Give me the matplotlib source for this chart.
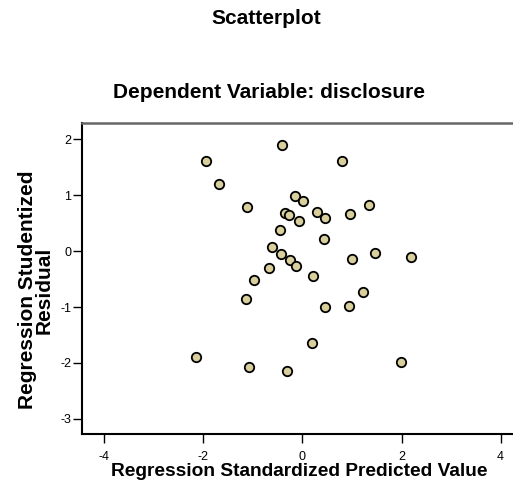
import matplotlib
matplotlib.use("Agg")
import matplotlib.pyplot as plt

plt.rcParams["font.family"] = ["Liberation Sans", "DejaVu Sans"]
plt.rcParams["axes.unicode_minus"] = False

# standardized predicted value (x) vs studentized residual (y)
pred = [-1.95, -1.68, -1.13, -0.41, -0.46, -0.62, -0.43, -0.68, -0.97, -1.15,
        0.80, -0.16, 0.01, 1.34, -0.36, -0.28, 0.29, 0.45, 0.96, -0.08,
        0.44, -0.25, -0.13, 1.00, 1.46, 2.19, 0.21, 1.22, 0.46, 0.94,
        0.19, -0.32, 1.98, -2.14, -1.07]
resid = [1.61, 1.20, 0.79, 1.89, 0.37, 0.07, -0.06, -0.30, -0.52, -0.86,
         1.61, 0.98, 0.90, 0.83, 0.68, 0.65, 0.70, 0.59, 0.67, 0.54,
         0.21, -0.16, -0.26, -0.15, -0.04, -0.11, -0.45, -0.73, -1.00, -0.99,
         -1.64, -2.14, -1.99, -1.90, -2.07]
xticks = [-4, -2, 0, 2, 4]
yticks = [-3, -2, -1, 0, 1, 2]

fig = plt.figure(figsize=(5.13, 4.90), dpi=100)
ax = fig.add_axes([0.159, 0.1143, 0.841, 0.6347])

ax.scatter(pred, resid, s=46, facecolor="#d8cf9c", edgecolor="black",
           linewidth=1.3, zorder=3)

ax.set_xlim(-4.46, 4.25)
ax.set_ylim(-3.27, 2.29)
ax.set_xticks(xticks)
ax.set_yticks(yticks)
ax.tick_params(labelsize=9, length=6.5, width=1, color="black")
ax.tick_params(axis="x", pad=5.5)
ax.tick_params(axis="y", pad=1)

for side in ["left", "bottom"]:
    ax.spines[side].set_linewidth(1.5)
ax.spines["right"].set_visible(False)
ax.spines["top"].set_color("#666666")
ax.spines["top"].set_linewidth(1.8)

fig.text(0.583, 0.038, "Regression Standardized Predicted Value",
         ha="center", va="center", fontsize=13.8, fontweight="bold")
fig.text(0.07, 0.408, "Regression Studentized\nResidual", rotation=90,
         ha="center", va="center", multialignment="center",
         fontsize=15, fontweight="bold", linespacing=0.85)

fig.text(0.5195, 0.963, "Scatterplot", ha="center", va="center",
         fontsize=15, fontweight="bold")
fig.text(0.524, 0.811, "Dependent Variable: disclosure", ha="center",
         va="center", fontsize=15, fontweight="bold")

fig.savefig("out.png", dpi=100)
